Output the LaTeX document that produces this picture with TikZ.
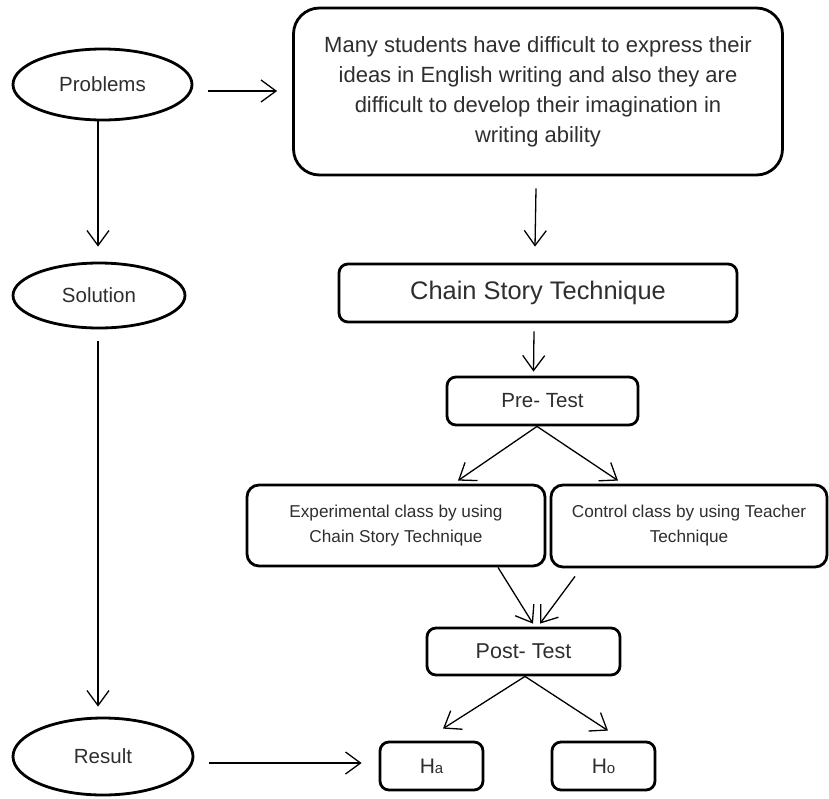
\documentclass[tikz,border=0pt]{standalone}
\usepackage{fontspec}
\setmainfont{Liberation Sans}
\usetikzlibrary{positioning}
\usetikzlibrary{shapes.geometric}
\usetikzlibrary{arrows.meta}

\begin{document}
\begin{tikzpicture}[x=1pt, y=-1pt, on grid]
	\tikzstyle{oval} = [draw, ellipse, line width=2.8pt, inner sep=0pt, text=black!82, font=\fontsize{20.5}{24}\selectfont]
	\tikzstyle{box} = [draw, rectangle, rounded corners=9pt, line width=2.8pt, align=center, inner sep=0pt, text=black!82]
	\tikzstyle{line} = [draw, line width=1.3pt, -{Straight Barb[length=15pt, width=22pt]}]

	\useasboundingbox (0,0) rectangle (829,798);

	\node [box, minimum width=489pt, minimum height=167pt, rounded corners=26pt, font=\fontsize{22}{30}\selectfont] (problem) at (538,91.5) {Many students have difficult to express their\\ideas in English writing and also they are\\difficult to develop their imagination in\\writing ability};
	\node [box, minimum width=398pt, minimum height=58pt, font=\fontsize{25.4}{30}\selectfont, below=201.5pt of problem] (chain) {Chain Story Technique};
	\node [box, minimum width=191pt, minimum height=48pt, font=\fontsize{20.5}{24}\selectfont, below right=108pt and 4.5pt of chain] (pre) {Pre- Test};
	\node [box, minimum width=298pt, minimum height=81pt, rounded corners=12pt, font=\fontsize{17.2}{25}\selectfont, below left=124.5pt and 146.5pt of pre] (exp) {Experimental class by using\\Chain Story Technique};
	\node [box, minimum width=276pt, minimum height=82pt, rounded corners=12pt, font=\fontsize{17.2}{25}\selectfont, below right=125pt and 146.5pt of pre] (ctrl) {Control class by using Teacher\\Technique};
	\node [box, minimum width=193pt, minimum height=47pt, font=\fontsize{21.5}{24}\selectfont, below left=250.5pt and 19pt of pre] (post) {Post- Test};
	\node [box, minimum width=103pt, minimum height=48pt, font=\fontsize{21}{24}\selectfont, below left=114.5pt and 92pt of post] (ha) {H{\fontsize{15}{15}\selectfont a}};
	\node [box, minimum width=103pt, minimum height=48pt, font=\fontsize{21}{24}\selectfont, below right=114.5pt and 80pt of post] (ho) {H{\fontsize{15}{15}\selectfont o}};

	\node [oval, minimum width=179pt, minimum height=71pt, above left=7pt and 435.5pt of problem] (prob) {Problems};
	\node [oval, minimum width=172pt, minimum height=65pt, below left=211pt and 3.5pt of prob] (sol) {Solution};
	\node [oval, minimum width=180pt, minimum height=77pt, above left=9.5pt and 328.5pt of ha] (res) {Result};

	\path [line] ([xshift=15pt, yshift=-6.5pt]prob.east) -- ([xshift=-15pt, yshift=0.5pt]problem.west);
	\path [line] ([xshift=-4.5pt]prob.south) -- ([xshift=-1pt, yshift=15pt]sol.north);
	\path [line] ([xshift=-1pt, yshift=-12pt]sol.south) -- ([xshift=-5pt, yshift=10pt]res.north);
	\path [line] ([xshift=15pt, yshift=-6.5pt]res.east) -- ([xshift=-17pt, yshift=3pt]ha.west);

	\path [line] ([xshift=-2pt, yshift=-12pt]problem.south) -- ([xshift=-3pt, yshift=16pt]chain.north);
	\path [line] ([xshift=-4pt, yshift=-8pt]chain.south) -- ([xshift=-9pt, yshift=4pt]pre.north);
	\path [line] ([xshift=-5.5pt]pre.south) -- ([xshift=62pt, yshift=3pt]exp.north);
	\path [line] ([xshift=-5.5pt]pre.south) -- ([xshift=-71pt, yshift=3pt]ctrl.north);
	\path [line] ([xshift=102pt]exp.south) -- ([xshift=9.5pt, yshift=3pt]post.north);
	\path [line] ([xshift=-114pt, yshift=-8pt]ctrl.south) -- ([xshift=16.5pt, yshift=3pt]post.north);
	\path [line] ([xshift=1.5pt]post.south) -- ([xshift=11.5pt, yshift=12pt]ha.north);
	\path [line] ([xshift=1.5pt]post.south) -- ([xshift=4.5pt, yshift=10pt]ho.north);
\end{tikzpicture}
\end{document}
